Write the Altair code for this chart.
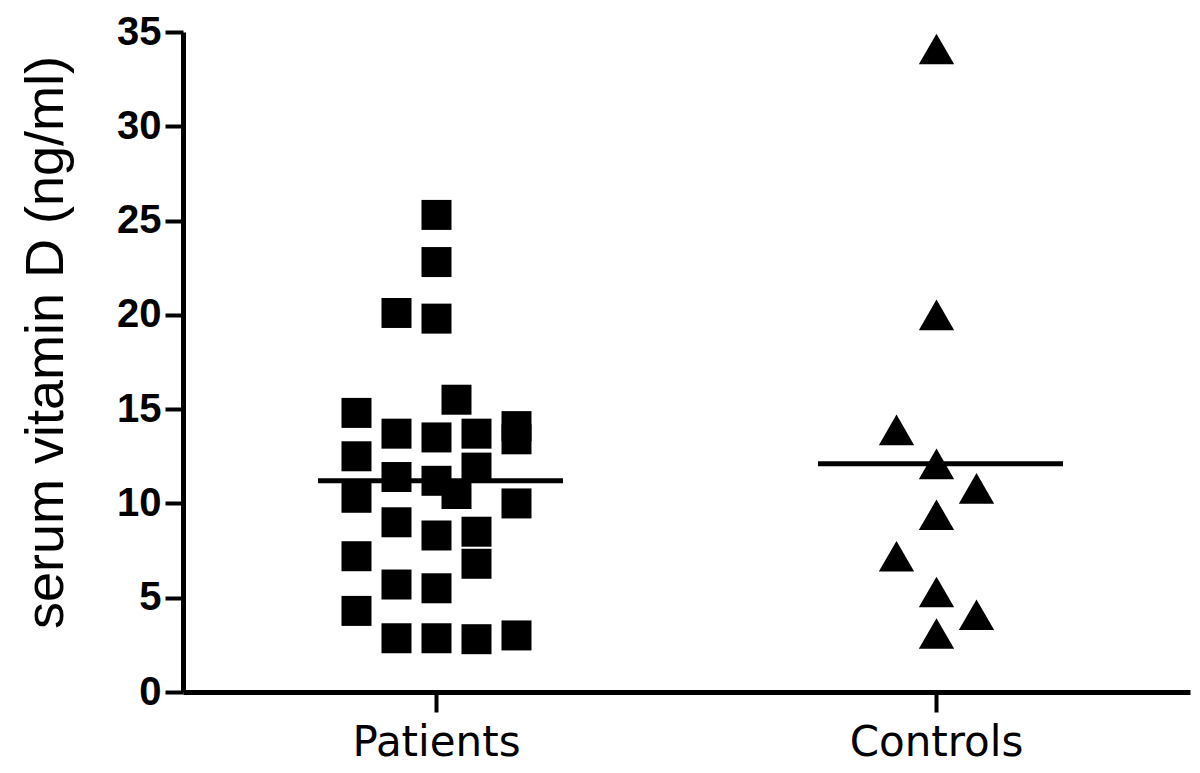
import altair as alt
import pandas as pd

groups = ["Patients", "Controls"]

patient_values = [25.3, 22.8, 20.1, 19.8, 15.5, 14.8, 13.7, 13.5, 13.7, 14.1,
                  13.4, 12.5, 11.9, 11.4, 11.2, 10.3, 10.5, 10.0, 9.0, 8.3,
                  8.5, 7.2, 6.8, 5.7, 5.5, 4.3, 2.85, 2.85, 2.8, 3.0]
patient_slots = [0, 0, -2, 0, 1, -4, -2, 0, 2, 4,
                 4, -4, 2, -2, 0, -4, 1, 4, -2, 0,
                 2, -4, 2, -2, 0, -4, -2, 0, 2, 4]

control_values = [34.1, 20.0, 13.9, 12.1, 10.8, 9.4, 7.2, 5.3, 4.1, 3.1]
control_slots = [0, 0, -2, 0, 2, 0, -2, 0, 2, 0]

mean_lines = [11.2, 12.1]

df = pd.DataFrame({
    "group": [groups[0]] * len(patient_values) + [groups[1]] * len(control_values),
    "value": patient_values + control_values,
    "slot": patient_slots + control_slots,
})
df_mean = pd.DataFrame({"group": groups, "value": mean_lines})

x_enc = alt.X(
    "group:N",
    sort=groups,
    scale=alt.Scale(domain=groups, paddingInner=0.5, paddingOuter=0.257),
    axis=alt.Axis(
        title=None, labelAngle=0, labelFont="DejaVu Sans", labelFontSize=42,
        labelColor="black", labelPadding=10, labelLimit=0, tickSize=20, tickWidth=4,
        tickColor="black", domainWidth=5, domainColor="black",
    ),
)
y_enc = alt.Y(
    "value:Q",
    scale=alt.Scale(domain=[0, 35], nice=False, zero=True),
    axis=alt.Axis(
        values=[0, 5, 10, 15, 20, 25, 30, 35], grid=False,
        title="serum vitamin D (ng/ml)", titleFont="Liberation Sans",
        titleFontSize=54, titleFontWeight="normal", titleColor="black",
        titleAngle=-90, titleX=-121, titleY=310, titleAlign="center",
        titleBaseline="alphabetic",
        labelFont="Liberation Sans", labelFontSize=40, labelFontWeight="bold",
        labelColor="black", labelPadding=4, tickSize=18, tickWidth=4,
        tickColor="black", domainWidth=5, domainColor="black",
    ),
)

points = alt.Chart(df).mark_point(filled=True, opacity=1, color="black", strokeWidth=0).encode(
    x=x_enc,
    xOffset=alt.XOffset("slot:Q", scale=alt.Scale(domain=[-6.25, 6.25])),
    y=y_enc,
    shape=alt.Shape("group:N", scale=alt.Scale(domain=groups, range=["square", "triangle-up"]), legend=None),
    size=alt.Size("group:N", scale=alt.Scale(domain=groups, range=[900, 1250]), legend=None),
)

means = alt.Chart(df_mean).mark_tick(size=245, thickness=5, color="black", opacity=1, xOffset=4).encode(
    x=x_enc,
    y=y_enc,
)

chart = alt.layer(points, means).properties(
    width=1007,
    height=660,
    autosize=alt.AutoSizeParams(type="none"),
    padding={"left": 175, "top": 24, "right": 2, "bottom": 75},
).configure_view(stroke=None)

chart.save("out.html", embed_options={"renderer": "svg", "actions": False})
